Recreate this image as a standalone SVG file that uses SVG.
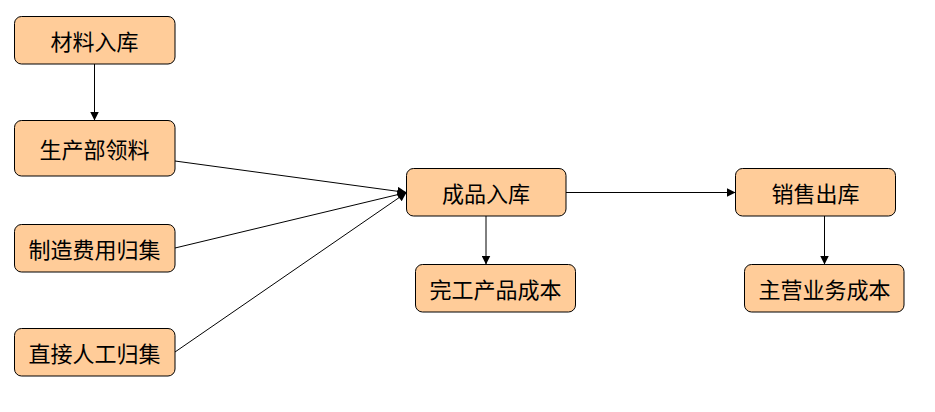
<svg xmlns="http://www.w3.org/2000/svg" width="935" height="412" viewBox="0 0 935 412">
<defs>
<marker id="ah" viewBox="0 0 10 10" refX="10" refY="5" markerWidth="9" markerHeight="9" markerUnits="userSpaceOnUse" orient="auto">
<path d="M0,0 L10,5 L0,10 Z" fill="#000"/>
</marker>
<style>
.n rect{fill:#FFCC99;stroke:#000;stroke-width:1}
.n text{font-family:"Noto Sans CJK SC","Microsoft YaHei",sans-serif;font-size:22px;fill:#000;text-anchor:middle;dominant-baseline:central}
.c line{stroke:#000;stroke-width:1;marker-end:url(#ah)}
</style>
</defs>
<rect width="935" height="412" fill="#fff"/>
<g class="c" id="connectors">
<line x1="94.5" y1="64" x2="94.5" y2="120.5"/>
<line x1="175" y1="161" x2="406.5" y2="192.5"/>
<line x1="175" y1="248" x2="406.5" y2="192.5"/>
<line x1="175" y1="352" x2="406.5" y2="192.5"/>
<line x1="566" y1="192.5" x2="735.5" y2="192.5"/>
<line x1="486" y1="216" x2="486" y2="264.5"/>
<line x1="824.5" y1="216" x2="824.5" y2="264.5"/>
</g>
<g class="n" id="n1"><rect x="14.5" y="16.5" width="160.5" height="47.5" rx="7"/><text x="94.5" y="40">材料入库</text></g>
<g class="n" id="n2"><rect x="14.5" y="120.5" width="160.5" height="55.5" rx="7"/><text x="94.5" y="148">生产部领料</text></g>
<g class="n" id="n3"><rect x="14.5" y="224.5" width="160.5" height="47.5" rx="7"/><text x="94.5" y="248">制造费用归集</text></g>
<g class="n" id="n4"><rect x="14.5" y="328.5" width="160.5" height="47.5" rx="7"/><text x="94.5" y="352">直接人工归集</text></g>
<g class="n" id="n5"><rect x="406.5" y="168.5" width="159.5" height="47.5" rx="7"/><text x="486" y="192">成品入库</text></g>
<g class="n" id="n6"><rect x="415.5" y="264.5" width="160" height="47.5" rx="7"/><text x="495.5" y="288">完工产品成本</text></g>
<g class="n" id="n7"><rect x="735.5" y="168.5" width="160" height="47.5" rx="7"/><text x="815.5" y="192">销售出库</text></g>
<g class="n" id="n8"><rect x="744.5" y="264.5" width="159.5" height="47.5" rx="7"/><text x="824.5" y="288">主营业务成本</text></g>
</svg>
